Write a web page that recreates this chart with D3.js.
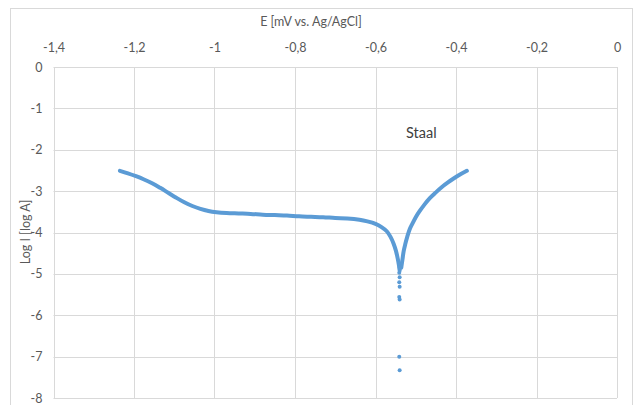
<!DOCTYPE html>
<html><head><meta charset="utf-8">
<script src="https://cdn.jsdelivr.net/npm/d3@7/dist/d3.min.js"></script>
<style>body{margin:0;background:#fff;}svg{display:block;font-family:Lato,"Open Sans",sans-serif;}</style>
</head><body>
<svg id="c" width="635" height="405"></svg>
<script>
// Main curve (potentiodynamic scan), E in V vs Ag/AgCl, log I
const curveE = [-1.235,-1.215,-1.195,-1.175,-1.155,-1.135,-1.115,-1.095,-1.075,-1.055,-1.035,-1.015,-0.995,-0.97,-0.94,-0.91,-0.88,-0.85,-0.82,-0.79,-0.76,-0.73,-0.70,-0.67,-0.64,-0.62,-0.60,-0.585,-0.572,-0.563,-0.555,-0.549,-0.545,-0.542,-0.540];
const curveL = [-2.51,-2.57,-2.64,-2.72,-2.81,-2.92,-3.04,-3.16,-3.27,-3.36,-3.43,-3.48,-3.51,-3.53,-3.54,-3.55,-3.57,-3.58,-3.59,-3.61,-3.62,-3.63,-3.65,-3.66,-3.69,-3.73,-3.79,-3.87,-3.97,-4.10,-4.27,-4.45,-4.62,-4.78,-4.92];
const anodicE = [-0.536,-0.533,-0.530,-0.526,-0.521,-0.515,-0.508,-0.500,-0.490,-0.478,-0.465,-0.450,-0.435,-0.420,-0.405,-0.390,-0.373];
const anodicL = [-4.85,-4.65,-4.45,-4.28,-4.10,-3.92,-3.78,-3.63,-3.48,-3.32,-3.17,-3.03,-2.90,-2.79,-2.69,-2.60,-2.51];
// Isolated points near the corrosion potential
const tipE = [-0.541,-0.540,-0.541,-0.540,-0.541,-0.540,-0.541,-0.540,-0.541,-0.540];
const tipL = [-4.75,-4.85,-4.97,-5.08,-5.20,-5.31,-5.56,-5.62,-7.00,-7.33];
const xTicks = [-1.4,-1.2,-1.0,-0.8,-0.6,-0.4,-0.2,0];
const yTicks = [0,-1,-2,-3,-4,-5,-6,-7,-8];
const seriesLabel = "Staal";
const xTitle = "E [mV vs. Ag/AgCl]";
const yTitle = "Log I [log A]";

const svg = d3.select("#c");
const L = 53.5, R = 617, T = 67, B = 398;
const x = d3.scaleLinear().domain([-1.4, 0]).range([L, R]);
const y = d3.scaleLinear().domain([0, -8]).range([T, B]);
const txt = "#595959", grid = "#d9d9d9", blue = "#5b9bd5";
const fmt = v => String(+v.toFixed(1)).replace(".", ",");
const font = "Lato,'Open Sans',sans-serif";

// outer chart border
svg.append("rect").attr("x", 10.5).attr("y", 8.5).attr("width", 622).attr("height", 420)
  .attr("fill", "none").attr("stroke", grid);

// gridlines
svg.append("g").selectAll("line").data(xTicks).join("line")
  .attr("x1", d => Math.round(x(d)) + 0.5).attr("x2", d => Math.round(x(d)) + 0.5)
  .attr("y1", T).attr("y2", B).attr("stroke", grid);
svg.append("g").selectAll("line").data(yTicks).join("line")
  .attr("y1", d => Math.round(y(d)) + 0.5).attr("y2", d => Math.round(y(d)) + 0.5)
  .attr("x1", L).attr("x2", R).attr("stroke", grid);

// axes (tick labels only)
const xa = svg.append("g").attr("transform", `translate(0,${T})`)
  .call(d3.axisTop(x).tickValues(xTicks).tickFormat(fmt).tickSize(0).tickPadding(15));
const ya = svg.append("g").attr("transform", `translate(${L},0)`)
  .call(d3.axisLeft(y).tickValues(yTicks).tickFormat(fmt).tickSize(0).tickPadding(11));
[xa, ya].forEach(g => {
  g.select(".domain").remove();
  g.selectAll("text").attr("fill", txt).style("font-size", "12.5px").style("font-family", font);
});

// titles
svg.append("text").attr("x", 311).attr("y", 26).attr("text-anchor", "middle")
  .attr("fill", txt).style("font-size", "12.5px").style("font-family", font).text(xTitle);
svg.append("text").attr("transform", "translate(30,232) rotate(-90)").attr("text-anchor", "middle")
  .attr("fill", txt).style("font-size", "12.5px").style("font-family", font).text(yTitle);

// series
const line = d3.line().x(d => x(d[0])).y(d => y(d[1])).curve(d3.curveCatmullRom);
const c1 = curveE.map((e, i) => [e, curveL[i]]);
const c2 = anodicE.map((e, i) => [e, anodicL[i]]);
[c1, c2].forEach(c => svg.append("path").datum(c).attr("d", line)
  .attr("fill", "none").attr("stroke", blue).attr("stroke-width", 4).attr("stroke-linecap", "round"));
const pts = tipE.map((e, i) => [e, tipL[i]]);
svg.append("g").selectAll("circle").data(pts).join("circle")
  .attr("cx", d => x(d[0])).attr("cy", d => y(d[1])).attr("r", 2).attr("fill", blue);

svg.append("text").attr("x", 406).attr("y", 138).attr("fill", "#404040")
  .style("font-size", "14.5px").style("font-family", font).text(seriesLabel);
</script>
</body></html>
